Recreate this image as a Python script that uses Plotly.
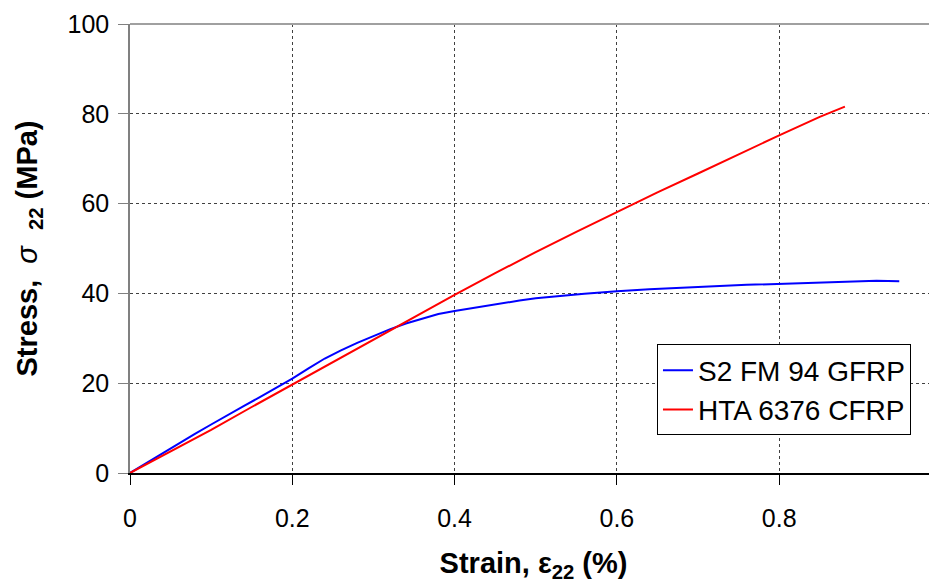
import plotly.graph_objects as go

# S2 FM 94 GFRP (blue)
gfrp_strain = [0, 0.02, 0.04, 0.06, 0.08, 0.10, 0.12, 0.14, 0.16, 0.18, 0.20, 0.22, 0.24, 0.26,
               0.28, 0.30, 0.32, 0.34, 0.36, 0.38, 0.40, 0.42, 0.44, 0.46, 0.48, 0.50, 0.52, 0.54,
               0.56, 0.58, 0.60, 0.64, 0.68, 0.72, 0.76, 0.80, 0.84, 0.88, 0.92, 0.948]
gfrp_stress = [0, 2.2, 4.4, 6.5, 8.7, 10.8, 12.9, 14.9, 16.9, 19.0, 21.0, 23.3, 25.5, 27.3,
               29.0, 30.5, 32.0, 33.3, 34.4, 35.4, 36.1, 36.7, 37.3, 37.9, 38.4, 38.9, 39.3, 39.6,
               39.9, 40.2, 40.5, 40.9, 41.3, 41.6, 41.9, 42.1, 42.3, 42.5, 42.8, 42.7]

# HTA 6376 CFRP (red)
cfrp_strain = [0, 0.05, 0.10, 0.15, 0.20, 0.25, 0.30, 0.35, 0.40, 0.45, 0.50, 0.55, 0.60,
               0.65, 0.70, 0.75, 0.80, 0.85, 0.881]
cfrp_stress = [0, 4.8, 9.6, 14.7, 19.7, 24.7, 29.6, 34.6, 39.7, 44.5, 49.2, 53.7, 58.1,
               62.5, 66.7, 71.0, 75.2, 79.3, 81.6]

x_ticks = [0, 0.2, 0.4, 0.6, 0.8]
x_tick_labels = ["0", "0.2", "0.4", "0.6", "0.8"]
y_ticks = [0, 20, 40, 60, 80, 100]

FONT = "Liberation Sans, Arial, sans-serif"

fig = go.Figure()
fig.add_trace(go.Scatter(x=gfrp_strain, y=gfrp_stress, mode="lines", name="S2 FM 94 GFRP",
                         line=dict(color="#0000FF", width=2)))
fig.add_trace(go.Scatter(x=cfrp_strain, y=cfrp_stress, mode="lines", name="HTA 6376 CFRP",
                         line=dict(color="#FF0000", width=2)))

# page body has an 8px default margin, so the figure is sized to end at the window edge
fig.update_layout(
    width=929, height=575,
    margin=dict(l=122, r=0, t=16, b=110, autoexpand=False),
    paper_bgcolor="white", plot_bgcolor="white",
    font=dict(family=FONT, color="black"),
    showlegend=True,
    legend=dict(x=0.653, y=0.185, xanchor="left", yanchor="middle",
                bordercolor="black", borderwidth=1, bgcolor="white",
                font=dict(size=28, family=FONT), itemwidth=30,
                tracegroupgap=0),
    xaxis=dict(range=[0, 0.9945], tickvals=x_ticks, ticktext=x_tick_labels,
               showgrid=True, gridcolor="#404040", griddash="3px,3px", gridwidth=1,
               zeroline=False, showline=True, linecolor="black", linewidth=1.5,
               ticks="outside", ticklen=10, tickcolor="black", automargin=False,
               tickfont=dict(size=25), ticklabelstandoff=12,
               title=dict(text="<b>Strain, ε<sub>22</sub> (%)</b>", font=dict(size=29), standoff=41)),
    yaxis=dict(range=[0, 100], tickvals=y_ticks,
               showgrid=True, gridcolor="#404040", griddash="3px,3px", gridwidth=1,
               zeroline=False, showline=True, linecolor="#808080", linewidth=1.5,
               ticks="outside", ticklen=10, tickcolor="#808080", automargin=False,
               tickfont=dict(size=25), ticklabelstandoff=4,
               title=dict(text="<b>Stress,</b>  <i>σ</i>  <b><sub>22</sub> (MPa)</b>", font=dict(size=29), standoff=21)),
    shapes=[dict(type="line", xref="paper", yref="paper", x0=0, x1=1, y0=1, y1=1,
                 line=dict(color="#A0A0A0", width=2))],
)

fig.write_html("out.html")
